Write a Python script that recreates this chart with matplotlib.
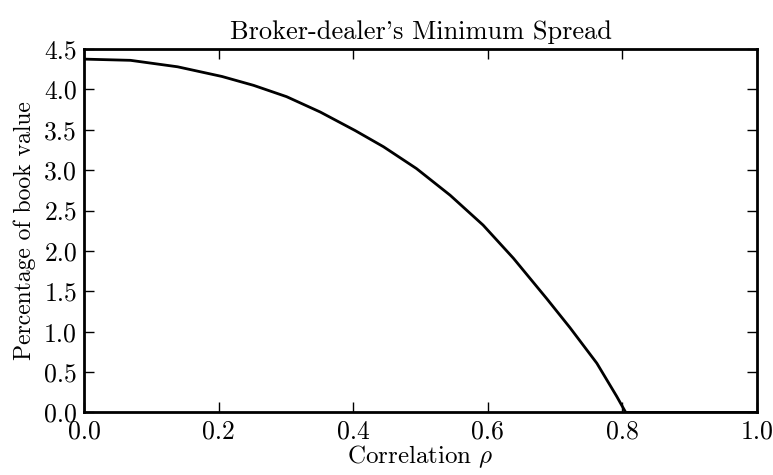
import matplotlib
matplotlib.use('Agg')
import matplotlib.pyplot as plt

# values
rho = [0.0, 0.069, 0.139, 0.205, 0.252, 0.301, 0.351, 0.403, 0.445, 0.494,
       0.544, 0.593, 0.638, 0.6875, 0.7221, 0.762, 0.7915, 0.805, 1.0]
spread = [4.375, 4.36, 4.28, 4.16, 4.05, 3.91, 3.72, 3.49, 3.29, 3.02,
          2.69, 2.32, 1.91, 1.41, 1.05, 0.61, 0.20, 0.0, 0.0]

xticks = [0.0, 0.2, 0.4, 0.6, 0.8, 1.0]
yticks = [0.0, 0.5, 1.0, 1.5, 2.0, 2.5, 3.0, 3.5, 4.0, 4.5]

plt.rcParams['font.family'] = 'cmr10'
plt.rcParams['mathtext.fontset'] = 'cm'
plt.rcParams['axes.unicode_minus'] = False
plt.rcParams['axes.formatter.use_mathtext'] = True

fig = plt.figure(figsize=(7.73, 4.75), dpi=100)
ax = fig.add_axes([0.1087, 0.1316, 0.8706, 0.7652])

ax.plot(rho, spread, color='black', lw=2, solid_joinstyle='round')

ax.set_xlim(0, 1.0)
ax.set_ylim(0, 4.5)
ax.set_xticks(xticks)
ax.set_yticks(yticks)
ax.set_xticklabels(['%.1f' % v for v in xticks])
ax.set_yticklabels(['%.1f' % v for v in yticks])
ax.tick_params(direction='in', length=7, width=1, top=True, right=True,
               labelsize=18.5, pad=5)
for s in ax.spines.values():
    s.set_linewidth(2)

ax.set_xlabel(r'Correlation $\rho$', fontsize=18, labelpad=0)
ax.set_ylabel('Percentage of book value', fontsize=17, labelpad=6)
ax.set_title("Broker-dealer's Minimum Spread", fontsize=19, pad=7)

fig.savefig('out.png', dpi=100)
